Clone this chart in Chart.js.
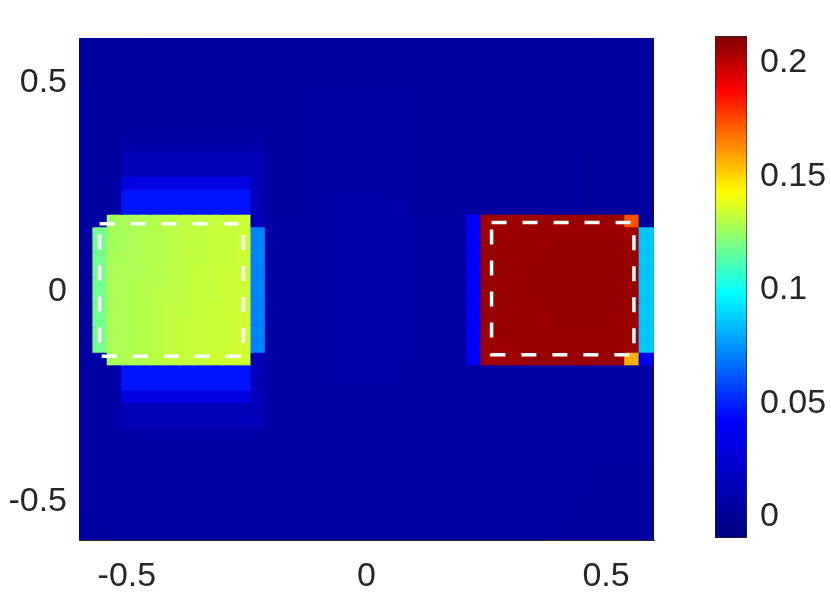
<!DOCTYPE html>
<html>
<head>
<meta charset="utf-8">
<script src="https://cdn.jsdelivr.net/npm/chart.js@4"></script>
<style>
  body { margin: 0; background: #fff; }
  #wrap { position: relative; width: 831px; height: 593px; }
  #plot { position: absolute; left: 0; top: 0; }
  #cbar { position: absolute; left: 700px; top: 0; }
</style>
</head>
<body>
<div id="wrap">
  <canvas id="plot" width="831" height="593"></canvas>
  <canvas id="cbar" width="131" height="593"></canvas>
</div>
<script>
// grid of the image (cell centres)
const xCenters = [-0.585,-0.555,-0.525,-0.495,-0.465,-0.435,-0.405,-0.375,-0.345,-0.315,
                  -0.285,-0.255,-0.225,-0.195,-0.165,-0.135,-0.105,-0.075,-0.045,-0.015,
                  0.015,0.045,0.075,0.105,0.135,0.165,0.195,0.225,0.255,0.285,
                  0.315,0.345,0.375,0.405,0.435,0.465,0.495,0.525,0.555,0.585];
const yCenters = [0.585,0.555,0.525,0.495,0.465,0.435,0.405,0.375,0.345,0.315,
                  0.285,0.255,0.225,0.195,0.165,0.135,0.105,0.075,0.045,0.015,
                  -0.015,-0.045,-0.075,-0.105,-0.135,-0.165,-0.195,-0.225,-0.255,-0.285,
                  -0.315,-0.345,-0.375,-0.405,-0.435,-0.465,-0.495,-0.525,-0.555,-0.585];
const cellW = 0.03, cellH = 0.03;

// values, one row per y (top to bottom)
const zRows = [
  [0.003,0.003,0.003,0.003,0.003,0.004,0.004,0.004,0.004,0.004, 0.004,0.004,0.004,0.004,0.004,0.004,0.004,0.004,0.004,0.004, 0.004,0.004,0.004,0.004,0.004,0.004,0.004,0.004,0.004,0.004, 0.004,0.004,0.004,0.004,0.004,0.004,0.003,0.003,0.003,0.003],
  [0.003,0.003,0.003,0.004,0.004,0.004,0.004,0.004,0.004,0.004, 0.004,0.004,0.004,0.004,0.004,0.004,0.004,0.004,0.004,0.004, 0.004,0.004,0.004,0.004,0.004,0.004,0.004,0.004,0.004,0.004, 0.004,0.004,0.004,0.004,0.004,0.004,0.003,0.003,0.003,0.003],
  [0.003,0.003,0.004,0.004,0.004,0.004,0.004,0.004,0.004,0.004, 0.004,0.004,0.004,0.004,0.004,0.004,0.004,0.004,0.004,0.004, 0.004,0.004,0.004,0.004,0.004,0.004,0.004,0.004,0.004,0.004, 0.004,0.004,0.004,0.004,0.004,0.003,0.003,0.003,0.003,0.003],
  [0.003,0.004,0.004,0.004,0.004,0.004,0.004,0.004,0.004,0.004, 0.004,0.004,0.004,0.004,0.004,0.004,0.004,0.004,0.004,0.004, 0.004,0.004,0.004,0.004,0.004,0.004,0.004,0.004,0.004,0.004, 0.004,0.004,0.004,0.004,0.004,0.003,0.003,0.003,0.003,0.003],
  [0.004,0.004,0.004,0.004,0.004,0.004,0.004,0.004,0.004,0.004, 0.004,0.004,0.004,0.004,0.004,0.004,0.005,0.005,0.005,0.005, 0.005,0.005,0.004,0.004,0.004,0.004,0.004,0.004,0.004,0.004, 0.004,0.004,0.004,0.004,0.004,0.003,0.003,0.003,0.003,0.003],
  [0.004,0.004,0.004,0.004,0.004,0.004,0.004,0.004,0.004,0.004, 0.004,0.004,0.004,0.004,0.004,0.004,0.005,0.005,0.005,0.005, 0.005,0.005,0.004,0.004,0.004,0.004,0.004,0.004,0.004,0.004, 0.004,0.004,0.004,0.004,0.004,0.003,0.003,0.003,0.003,0.003],
  [0.004,0.004,0.004,0.004,0.004,0.004,0.004,0.004,0.004,0.004, 0.004,0.004,0.004,0.004,0.004,0.004,0.005,0.005,0.005,0.005, 0.005,0.005,0.004,0.004,0.004,0.004,0.004,0.004,0.004,0.004, 0.004,0.004,0.004,0.004,0.004,0.003,0.003,0.003,0.003,0.003],
  [0.004,0.004,0.004,0.005,0.005,0.005,0.005,0.005,0.005,0.005, 0.005,0.005,0.005,0.004,0.004,0.004,0.005,0.005,0.005,0.005, 0.005,0.005,0.004,0.004,0.004,0.004,0.004,0.004,0.004,0.004, 0.004,0.004,0.004,0.004,0.004,0.003,0.003,0.003,0.003,0.003],
  [0.004,0.004,0.004,0.006,0.006,0.006,0.006,0.006,0.006,0.006, 0.006,0.006,0.006,0.004,0.004,0.004,0.005,0.005,0.005,0.005, 0.005,0.005,0.004,0.004,0.004,0.004,0.004,0.004,0.004,0.004, 0.004,0.004,0.004,0.004,0.004,0.003,0.003,0.003,0.003,0.003],
  [0.004,0.004,0.004,0.014,0.014,0.014,0.014,0.014,0.014,0.014, 0.014,0.014,0.014,0.004,0.004,0.004,0.005,0.005,0.005,0.005, 0.005,0.005,0.004,0.004,0.004,0.004,0.004,0.004,0.004,0.004, 0.004,0.004,0.004,0.004,0.004,0.002,0.002,0.002,0.002,0.003],
  [0.004,0.004,0.004,0.014,0.014,0.014,0.014,0.014,0.014,0.014, 0.014,0.014,0.014,0.004,0.004,0.004,0.005,0.005,0.005,0.005, 0.005,0.005,0.004,0.004,0.004,0.004,0.004,0.004,0.004,0.004, 0.004,0.004,0.004,0.004,0.004,0.002,0.002,0.002,0.002,0.003],
  [0.004,0.004,0.004,0.030,0.030,0.030,0.030,0.030,0.030,0.030, 0.030,0.030,0.014,0.004,0.004,0.004,0.005,0.005,0.005,0.005, 0.005,0.005,0.004,0.004,0.004,0.004,0.004,0.004,0.004,0.004, 0.004,0.004,0.004,0.004,0.004,0.002,0.002,0.002,0.002,0.003],
  [0.004,0.004,0.004,0.047,0.047,0.047,0.047,0.047,0.047,0.047, 0.047,0.047,0.014,0.004,0.004,0.004,0.005,0.006,0.006,0.006, 0.006,0.006,0.005,0.004,0.004,0.004,0.004,0.004,0.004,0.004, 0.004,0.004,0.004,0.004,0.004,0.002,0.002,0.002,0.002,0.003],
  [0.004,0.004,0.004,0.047,0.047,0.047,0.047,0.047,0.047,0.047, 0.047,0.047,0.014,0.004,0.004,0.004,0.005,0.007,0.007,0.007, 0.007,0.007,0.007,0.004,0.004,0.004,0.004,0.004,0.004,0.004, 0.004,0.004,0.004,0.004,0.004,0.002,0.002,0.002,0.002,0.003],
  [0.004,0.008,0.127,0.128,0.129,0.130,0.131,0.132,0.132,0.133, 0.133,0.134,0.014,0.005,0.005,0.005,0.005,0.008,0.008,0.008, 0.008,0.008,0.008,0.005,0.005,0.005,0.005,0.040,0.206,0.206, 0.206,0.207,0.207,0.207,0.207,0.207,0.207,0.207,0.174,0.004],
  [0.005,0.119,0.127,0.128,0.129,0.130,0.131,0.132,0.132,0.133, 0.133,0.134,0.071,0.005,0.005,0.005,0.005,0.008,0.008,0.008, 0.008,0.008,0.008,0.005,0.005,0.005,0.005,0.040,0.206,0.206, 0.207,0.207,0.207,0.207,0.207,0.207,0.207,0.207,0.206,0.086],
  [0.005,0.119,0.127,0.128,0.129,0.130,0.131,0.132,0.132,0.133, 0.133,0.134,0.071,0.005,0.005,0.005,0.005,0.008,0.008,0.008, 0.008,0.008,0.008,0.005,0.005,0.005,0.005,0.040,0.207,0.207, 0.207,0.207,0.207,0.208,0.208,0.208,0.208,0.208,0.207,0.086],
  [0.005,0.119,0.128,0.128,0.129,0.130,0.131,0.132,0.132,0.133, 0.133,0.134,0.071,0.005,0.005,0.005,0.005,0.008,0.008,0.008, 0.008,0.008,0.008,0.005,0.005,0.005,0.005,0.040,0.207,0.207, 0.207,0.207,0.208,0.208,0.208,0.208,0.208,0.208,0.207,0.086],
  [0.005,0.119,0.128,0.129,0.129,0.130,0.131,0.132,0.133,0.133, 0.134,0.134,0.071,0.005,0.005,0.005,0.005,0.008,0.008,0.008, 0.008,0.008,0.008,0.005,0.005,0.005,0.005,0.040,0.207,0.207, 0.207,0.208,0.208,0.208,0.208,0.208,0.208,0.208,0.207,0.086],
  [0.005,0.119,0.128,0.129,0.130,0.130,0.131,0.132,0.133,0.133, 0.134,0.134,0.071,0.005,0.005,0.005,0.005,0.008,0.008,0.008, 0.008,0.008,0.008,0.005,0.005,0.005,0.005,0.040,0.207,0.207, 0.207,0.208,0.208,0.208,0.208,0.208,0.208,0.208,0.207,0.086],
  [0.005,0.119,0.128,0.129,0.130,0.131,0.131,0.132,0.133,0.133, 0.134,0.134,0.071,0.005,0.005,0.005,0.005,0.008,0.008,0.008, 0.008,0.008,0.008,0.005,0.005,0.005,0.005,0.040,0.207,0.207, 0.207,0.208,0.208,0.208,0.208,0.208,0.208,0.208,0.207,0.086],
  [0.005,0.119,0.128,0.129,0.130,0.131,0.132,0.132,0.133,0.134, 0.134,0.134,0.071,0.005,0.005,0.005,0.005,0.008,0.008,0.008, 0.008,0.008,0.008,0.005,0.005,0.005,0.005,0.040,0.207,0.207, 0.207,0.207,0.208,0.208,0.208,0.208,0.208,0.208,0.207,0.086],
  [0.005,0.119,0.128,0.129,0.130,0.131,0.132,0.133,0.133,0.134, 0.134,0.135,0.071,0.005,0.005,0.005,0.005,0.008,0.008,0.008, 0.008,0.008,0.008,0.005,0.005,0.005,0.005,0.040,0.207,0.207, 0.207,0.207,0.207,0.208,0.208,0.208,0.208,0.207,0.207,0.086],
  [0.005,0.119,0.128,0.129,0.130,0.131,0.132,0.133,0.133,0.134, 0.134,0.135,0.071,0.005,0.005,0.005,0.005,0.008,0.008,0.008, 0.008,0.008,0.008,0.005,0.005,0.005,0.005,0.040,0.206,0.207, 0.207,0.207,0.207,0.207,0.207,0.207,0.207,0.207,0.207,0.086],
  [0.005,0.119,0.128,0.129,0.130,0.131,0.132,0.133,0.133,0.134, 0.134,0.135,0.071,0.005,0.005,0.005,0.005,0.008,0.008,0.008, 0.008,0.008,0.008,0.005,0.005,0.005,0.005,0.040,0.206,0.206, 0.207,0.207,0.207,0.207,0.207,0.207,0.207,0.207,0.206,0.086],
  [0.005,0.008,0.128,0.129,0.130,0.131,0.132,0.133,0.133,0.134, 0.134,0.135,0.014,0.005,0.005,0.005,0.005,0.008,0.008,0.008, 0.008,0.008,0.008,0.005,0.005,0.005,0.005,0.040,0.206,0.206, 0.206,0.207,0.207,0.207,0.207,0.207,0.207,0.207,0.157,0.035],
  [0.005,0.005,0.005,0.047,0.047,0.047,0.047,0.047,0.047,0.047, 0.047,0.047,0.014,0.005,0.005,0.005,0.005,0.007,0.007,0.007, 0.007,0.007,0.007,0.005,0.005,0.005,0.005,0.005,0.005,0.005, 0.005,0.005,0.005,0.005,0.005,0.005,0.005,0.005,0.005,0.005],
  [0.005,0.005,0.005,0.047,0.047,0.047,0.047,0.047,0.047,0.047, 0.047,0.047,0.014,0.005,0.005,0.005,0.005,0.006,0.006,0.006, 0.006,0.006,0.006,0.005,0.005,0.005,0.005,0.005,0.005,0.005, 0.005,0.005,0.005,0.005,0.005,0.005,0.005,0.005,0.005,0.005],
  [0.005,0.005,0.005,0.030,0.030,0.030,0.030,0.030,0.030,0.030, 0.030,0.030,0.014,0.005,0.005,0.005,0.005,0.005,0.005,0.005, 0.005,0.005,0.005,0.005,0.005,0.005,0.005,0.005,0.005,0.005, 0.005,0.005,0.005,0.005,0.005,0.005,0.005,0.005,0.005,0.005],
  [0.005,0.005,0.005,0.014,0.014,0.014,0.014,0.014,0.014,0.014, 0.014,0.014,0.014,0.005,0.005,0.005,0.005,0.005,0.005,0.005, 0.005,0.005,0.005,0.005,0.005,0.005,0.005,0.005,0.005,0.005, 0.005,0.005,0.005,0.005,0.005,0.005,0.005,0.005,0.005,0.005],
  [0.005,0.005,0.005,0.014,0.014,0.014,0.014,0.014,0.014,0.014, 0.014,0.014,0.014,0.005,0.005,0.005,0.005,0.005,0.005,0.005, 0.005,0.005,0.005,0.005,0.005,0.005,0.005,0.005,0.005,0.005, 0.005,0.005,0.005,0.005,0.005,0.005,0.005,0.005,0.005,0.005],
  [0.005,0.005,0.005,0.006,0.006,0.006,0.006,0.006,0.006,0.006, 0.006,0.006,0.006,0.005,0.005,0.005,0.005,0.005,0.005,0.005, 0.005,0.005,0.005,0.005,0.005,0.005,0.005,0.005,0.005,0.005, 0.005,0.005,0.005,0.005,0.005,0.005,0.005,0.005,0.005,0.005],
  [0.005,0.005,0.005,0.005,0.005,0.005,0.005,0.005,0.005,0.005, 0.005,0.005,0.005,0.005,0.005,0.005,0.005,0.005,0.005,0.005, 0.005,0.005,0.005,0.005,0.005,0.005,0.005,0.005,0.005,0.005, 0.005,0.005,0.005,0.005,0.005,0.005,0.005,0.005,0.005,0.005],
  [0.005,0.005,0.005,0.005,0.005,0.005,0.005,0.005,0.005,0.005, 0.005,0.005,0.005,0.005,0.005,0.005,0.005,0.005,0.005,0.005, 0.005,0.005,0.005,0.005,0.005,0.005,0.005,0.005,0.005,0.005, 0.005,0.005,0.005,0.005,0.005,0.005,0.005,0.005,0.005,0.005],
  [0.005,0.005,0.005,0.005,0.005,0.005,0.005,0.005,0.005,0.005, 0.005,0.005,0.005,0.005,0.005,0.005,0.005,0.005,0.005,0.005, 0.005,0.005,0.005,0.005,0.005,0.005,0.005,0.005,0.005,0.005, 0.005,0.005,0.005,0.005,0.005,0.004,0.004,0.004,0.004,0.004],
  [0.005,0.005,0.005,0.005,0.005,0.005,0.005,0.005,0.005,0.005, 0.005,0.005,0.005,0.005,0.005,0.005,0.005,0.005,0.005,0.005, 0.005,0.005,0.005,0.005,0.005,0.005,0.005,0.005,0.005,0.005, 0.005,0.005,0.005,0.005,0.005,0.004,0.004,0.004,0.004,0.004],
  [0.005,0.005,0.005,0.005,0.005,0.005,0.005,0.005,0.005,0.005, 0.005,0.005,0.005,0.005,0.005,0.005,0.005,0.005,0.005,0.005, 0.005,0.005,0.005,0.005,0.005,0.005,0.005,0.005,0.005,0.005, 0.005,0.005,0.005,0.005,0.004,0.004,0.004,0.004,0.004,0.004],
  [0.005,0.005,0.005,0.005,0.005,0.005,0.005,0.005,0.005,0.005, 0.005,0.005,0.005,0.005,0.005,0.005,0.005,0.005,0.005,0.005, 0.005,0.005,0.005,0.005,0.005,0.005,0.005,0.005,0.005,0.005, 0.005,0.005,0.005,0.005,0.004,0.004,0.004,0.004,0.004,0.004],
  [0.004,0.005,0.005,0.005,0.005,0.005,0.005,0.005,0.005,0.005, 0.005,0.005,0.005,0.005,0.005,0.005,0.005,0.005,0.005,0.005, 0.005,0.005,0.005,0.005,0.005,0.005,0.005,0.005,0.005,0.005, 0.005,0.005,0.005,0.004,0.004,0.004,0.004,0.004,0.004,0.004],
  [0.004,0.004,0.005,0.005,0.005,0.005,0.005,0.005,0.005,0.005, 0.005,0.005,0.005,0.005,0.005,0.005,0.005,0.005,0.005,0.005, 0.005,0.005,0.005,0.005,0.005,0.005,0.005,0.005,0.005,0.005, 0.005,0.005,0.005,0.004,0.004,0.004,0.004,0.004,0.004,0.004]
];

// dashed outlines
const boxLeftX  = [-0.557, -0.257, -0.257, -0.557, -0.557];
const boxLeftY  = [0.156, 0.156, -0.161, -0.161, 0.156];
const boxRightX = [0.261, 0.558, 0.558, 0.261, 0.261];
const boxRightY = [0.159, 0.159, -0.157, -0.157, 0.159];

const xTicks = [-0.5, 0, 0.5];
const xTickLabels = ['-0.5', '0', '0.5'];
const yTicks = [-0.5, 0, 0.5];
const yTickLabels = ['-0.5', '0', '0.5'];

// colour scale
const cMin = -0.0093, cMax = 0.2119;
const cbTicks = [0, 0.05, 0.1, 0.15, 0.2];
const cbTickLabels = ['0', '0.05', '0.1', '0.15', '0.2'];
const cmapStops = [-0.0093, 0.0427, 0.0987, 0.143, 0.188, 0.2119];
const cmapRGB = [[0,0,128],[0,0,255],[0,255,255],[255,255,0],[255,0,0],[128,0,0]];

const tickFont = { family: "'Liberation Sans', Arial, sans-serif", size: 34 };
const tickColor = '#262626';

function colorFor(v) {
  if (v <= cmapStops[0]) return 'rgb(' + cmapRGB[0].join(',') + ')';
  for (let i = 1; i < cmapStops.length; i++) {
    if (v <= cmapStops[i]) {
      const t = (v - cmapStops[i-1]) / (cmapStops[i] - cmapStops[i-1]);
      const a = cmapRGB[i-1], b = cmapRGB[i];
      return 'rgb(' + a.map((c, k) => Math.round(c + (b[k] - c) * t)).join(',') + ')';
    }
  }
  return 'rgb(' + cmapRGB[cmapRGB.length-1].join(',') + ')';
}

const cellSets = zRows.map((row, r) => ({
  type: 'bar',
  data: row.map((v, c) => ({ x: xCenters[c], y: [yCenters[r] - cellH / 2, yCenters[r] + cellH / 2] })),
  backgroundColor: row.map(colorFor),
  borderWidth: 0,
  inflateAmount: 1,
  grouped: false,
  barPercentage: 1,
  categoryPercentage: 1,
  order: 2
}));

const boxSet = (xs, ys) => ({
  type: 'line',
  data: xs.map((x, i) => ({ x: x, y: ys[i] })),
  borderColor: '#ffffff',
  borderWidth: 3.5,
  borderDash: [15, 16],
  pointRadius: 0,
  tension: 0,
  fill: false,
  order: 0
});

new Chart(document.getElementById('plot'), {
  type: 'bar',
  data: { datasets: [...cellSets, boxSet(boxLeftX, boxLeftY), boxSet(boxRightX, boxRightY)] },
  options: {
    responsive: false,
    animation: false,
    layout: { padding: { left: 0, right: 177, top: 38, bottom: 0 } },
    plugins: { legend: { display: false }, tooltip: { enabled: false } },
    scales: {
      x: {
        type: 'linear', min: -0.6, max: 0.6, offset: false,
        grid: { display: false, drawTicks: false },
        border: { display: true, color: '#262626' },
        afterBuildTicks: s => { s.ticks = xTicks.map(v => ({ value: v })); },
        afterFit: s => { s.height = 53; },
        ticks: { font: tickFont, color: tickColor, padding: 16, maxRotation: 0,
                 callback: v => xTickLabels[xTicks.indexOf(v)] }
      },
      y: {
        type: 'linear', min: -0.6, max: 0.6,
        grid: { display: false, drawTicks: false },
        border: { display: true, color: '#262626' },
        afterBuildTicks: s => { s.ticks = yTicks.map(v => ({ value: v })); },
        afterFit: s => { s.width = 79; },
        ticks: { font: tickFont, color: tickColor, padding: 12, labelOffset: 3,
                 callback: v => yTickLabels[yTicks.indexOf(v)] }
      }
    }
  }
});

new Chart(document.getElementById('cbar'), {
  type: 'bar',
  data: {
    labels: ['c'],
    datasets: [{
      data: [[cMin, cMax]],
      barPercentage: 1,
      categoryPercentage: 1,
      borderWidth: 1,
      borderColor: '#262626',
      borderSkipped: false,
      backgroundColor: ctx => {
        const { chart } = ctx;
        if (!chart.chartArea) return '#000080';
        const y = chart.scales.y;
        const g = chart.ctx.createLinearGradient(0, y.getPixelForValue(cMin), 0, y.getPixelForValue(cMax));
        cmapStops.forEach((s, i) => g.addColorStop((s - cMin) / (cMax - cMin), 'rgb(' + cmapRGB[i].join(',') + ')'));
        return g;
      }
    }]
  },
  options: {
    responsive: false,
    animation: false,
    layout: { padding: { left: 15, right: 0, top: 36, bottom: 55 } },
    plugins: { legend: { display: false }, tooltip: { enabled: false } },
    scales: {
      x: { display: false },
      y: {
        position: 'right', min: cMin, max: cMax,
        grid: { display: false, drawTicks: false },
        border: { display: false },
        afterBuildTicks: s => { s.ticks = cbTicks.map(v => ({ value: v })); },
        afterFit: s => { s.width = 84; },
        ticks: { font: tickFont, color: tickColor, padding: 13,
                 callback: v => cbTickLabels[cbTicks.indexOf(v)] }
      }
    }
  }
});
</script>
</body>
</html>
